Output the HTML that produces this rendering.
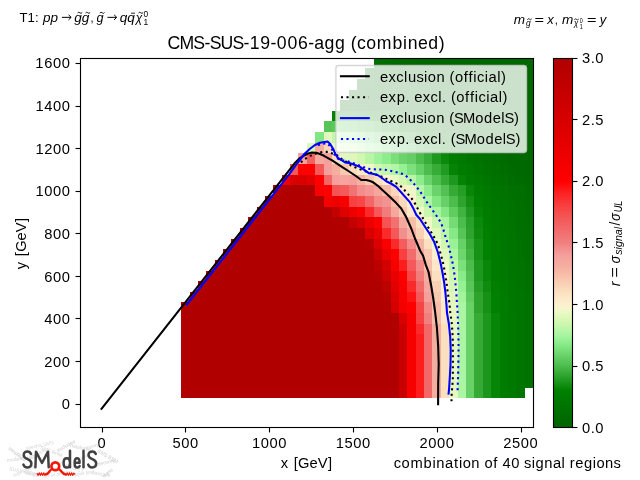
<!DOCTYPE html>
<html><head><meta charset="utf-8"><title>CMS-SUS-19-006-agg (combined)</title>
<style>html,body{margin:0;padding:0;background:#fff;overflow:hidden}svg{display:block;will-change:transform}text{font-family:"Liberation Sans",sans-serif;fill:#000}.i{font-style:italic}</style></head><body>
<svg width="640" height="480" viewBox="0 0 640 480">
<rect width="640" height="480" fill="#fff"/>
<g shape-rendering="crispEdges">
<rect x="181" y="388" width="218" height="10" fill="#b00000"/>
<rect x="399" y="388" width="8" height="10" fill="#c80000"/>
<rect x="407" y="388" width="9" height="10" fill="#f60000"/>
<rect x="416" y="388" width="8" height="10" fill="#fd1d1d"/>
<rect x="424" y="388" width="8" height="10" fill="#f26868"/>
<rect x="432" y="388" width="9" height="10" fill="#f5ad9f"/>
<rect x="441" y="388" width="8" height="10" fill="#fbe0c0"/>
<rect x="449" y="388" width="9" height="10" fill="#e6f8c1"/>
<rect x="458" y="388" width="8" height="10" fill="#acf5a2"/>
<rect x="466" y="388" width="8" height="10" fill="#67d167"/>
<rect x="474" y="388" width="9" height="10" fill="#35aa35"/>
<rect x="483" y="388" width="8" height="10" fill="#1c961c"/>
<rect x="491" y="388" width="9" height="10" fill="#078507"/>
<rect x="500" y="388" width="8" height="10" fill="#007d00"/>
<rect x="508" y="388" width="8" height="10" fill="#007900"/>
<rect x="516" y="388" width="9" height="10" fill="#007500"/>
<rect x="181" y="377" width="218" height="11" fill="#b00000"/>
<rect x="399" y="377" width="8" height="11" fill="#c80000"/>
<rect x="407" y="377" width="9" height="11" fill="#f60000"/>
<rect x="416" y="377" width="8" height="11" fill="#fd1d1d"/>
<rect x="424" y="377" width="8" height="11" fill="#f26868"/>
<rect x="432" y="377" width="9" height="11" fill="#f5ad9f"/>
<rect x="441" y="377" width="8" height="11" fill="#fbe0c0"/>
<rect x="449" y="377" width="9" height="11" fill="#e6f8c1"/>
<rect x="458" y="377" width="8" height="11" fill="#acf5a2"/>
<rect x="466" y="377" width="8" height="11" fill="#67d167"/>
<rect x="474" y="377" width="9" height="11" fill="#35aa35"/>
<rect x="483" y="377" width="8" height="11" fill="#1c961c"/>
<rect x="491" y="377" width="9" height="11" fill="#078507"/>
<rect x="500" y="377" width="8" height="11" fill="#007d00"/>
<rect x="508" y="377" width="8" height="11" fill="#007900"/>
<rect x="516" y="377" width="9" height="11" fill="#007500"/>
<rect x="525" y="377" width="8" height="11" fill="#007200"/>
<rect x="181" y="366" width="218" height="11" fill="#b00000"/>
<rect x="399" y="366" width="8" height="11" fill="#c80000"/>
<rect x="407" y="366" width="9" height="11" fill="#f60000"/>
<rect x="416" y="366" width="8" height="11" fill="#fd1d1d"/>
<rect x="424" y="366" width="8" height="11" fill="#f26868"/>
<rect x="432" y="366" width="9" height="11" fill="#f5ad9f"/>
<rect x="441" y="366" width="8" height="11" fill="#fbe0c0"/>
<rect x="449" y="366" width="9" height="11" fill="#e6f8c1"/>
<rect x="458" y="366" width="8" height="11" fill="#acf5a2"/>
<rect x="466" y="366" width="8" height="11" fill="#67d167"/>
<rect x="474" y="366" width="9" height="11" fill="#35aa35"/>
<rect x="483" y="366" width="8" height="11" fill="#1c961c"/>
<rect x="491" y="366" width="9" height="11" fill="#078507"/>
<rect x="500" y="366" width="8" height="11" fill="#007d00"/>
<rect x="508" y="366" width="8" height="11" fill="#007900"/>
<rect x="516" y="366" width="9" height="11" fill="#007500"/>
<rect x="525" y="366" width="8" height="11" fill="#007200"/>
<rect x="181" y="356" width="218" height="10" fill="#b00000"/>
<rect x="399" y="356" width="8" height="10" fill="#c80000"/>
<rect x="407" y="356" width="9" height="10" fill="#f60000"/>
<rect x="416" y="356" width="8" height="10" fill="#fd1d1d"/>
<rect x="424" y="356" width="8" height="10" fill="#f26868"/>
<rect x="432" y="356" width="9" height="10" fill="#f5ad9f"/>
<rect x="441" y="356" width="8" height="10" fill="#fbe0c0"/>
<rect x="449" y="356" width="9" height="10" fill="#e6f8c1"/>
<rect x="458" y="356" width="8" height="10" fill="#acf5a2"/>
<rect x="466" y="356" width="8" height="10" fill="#67d167"/>
<rect x="474" y="356" width="9" height="10" fill="#35aa35"/>
<rect x="483" y="356" width="8" height="10" fill="#1c961c"/>
<rect x="491" y="356" width="9" height="10" fill="#078507"/>
<rect x="500" y="356" width="8" height="10" fill="#007d00"/>
<rect x="508" y="356" width="8" height="10" fill="#007900"/>
<rect x="516" y="356" width="9" height="10" fill="#007500"/>
<rect x="525" y="356" width="8" height="10" fill="#007200"/>
<rect x="181" y="345" width="218" height="11" fill="#b00000"/>
<rect x="399" y="345" width="8" height="11" fill="#c80000"/>
<rect x="407" y="345" width="9" height="11" fill="#f60000"/>
<rect x="416" y="345" width="8" height="11" fill="#fd1d1d"/>
<rect x="424" y="345" width="8" height="11" fill="#f26868"/>
<rect x="432" y="345" width="9" height="11" fill="#f5ad9f"/>
<rect x="441" y="345" width="8" height="11" fill="#fbe0c0"/>
<rect x="449" y="345" width="9" height="11" fill="#e6f8c1"/>
<rect x="458" y="345" width="8" height="11" fill="#acf5a2"/>
<rect x="466" y="345" width="8" height="11" fill="#67d167"/>
<rect x="474" y="345" width="9" height="11" fill="#35aa35"/>
<rect x="483" y="345" width="8" height="11" fill="#1c961c"/>
<rect x="491" y="345" width="9" height="11" fill="#078507"/>
<rect x="500" y="345" width="8" height="11" fill="#007d00"/>
<rect x="508" y="345" width="8" height="11" fill="#007900"/>
<rect x="516" y="345" width="9" height="11" fill="#007500"/>
<rect x="525" y="345" width="8" height="11" fill="#007200"/>
<rect x="181" y="334" width="218" height="11" fill="#b00000"/>
<rect x="399" y="334" width="8" height="11" fill="#c80000"/>
<rect x="407" y="334" width="9" height="11" fill="#f60000"/>
<rect x="416" y="334" width="8" height="11" fill="#fd1d1d"/>
<rect x="424" y="334" width="8" height="11" fill="#f26868"/>
<rect x="432" y="334" width="9" height="11" fill="#f5ad9f"/>
<rect x="441" y="334" width="8" height="11" fill="#fbe0c0"/>
<rect x="449" y="334" width="9" height="11" fill="#e6f8c1"/>
<rect x="458" y="334" width="8" height="11" fill="#acf5a2"/>
<rect x="466" y="334" width="8" height="11" fill="#67d167"/>
<rect x="474" y="334" width="9" height="11" fill="#35aa35"/>
<rect x="483" y="334" width="8" height="11" fill="#1c961c"/>
<rect x="491" y="334" width="9" height="11" fill="#078507"/>
<rect x="500" y="334" width="8" height="11" fill="#007d00"/>
<rect x="508" y="334" width="8" height="11" fill="#007900"/>
<rect x="516" y="334" width="9" height="11" fill="#007500"/>
<rect x="525" y="334" width="8" height="11" fill="#007200"/>
<rect x="181" y="324" width="218" height="10" fill="#b00000"/>
<rect x="399" y="324" width="8" height="10" fill="#cc0000"/>
<rect x="407" y="324" width="9" height="10" fill="#f60000"/>
<rect x="416" y="324" width="8" height="10" fill="#fb2a2a"/>
<rect x="424" y="324" width="8" height="10" fill="#f26868"/>
<rect x="432" y="324" width="9" height="10" fill="#f5ad9f"/>
<rect x="441" y="324" width="8" height="10" fill="#fbe0c0"/>
<rect x="449" y="324" width="9" height="10" fill="#e6f8c1"/>
<rect x="458" y="324" width="8" height="10" fill="#acf5a2"/>
<rect x="466" y="324" width="8" height="10" fill="#67d167"/>
<rect x="474" y="324" width="9" height="10" fill="#35aa35"/>
<rect x="483" y="324" width="8" height="10" fill="#1c961c"/>
<rect x="491" y="324" width="9" height="10" fill="#078507"/>
<rect x="500" y="324" width="8" height="10" fill="#007d00"/>
<rect x="508" y="324" width="8" height="10" fill="#007900"/>
<rect x="516" y="324" width="9" height="10" fill="#007500"/>
<rect x="525" y="324" width="8" height="10" fill="#007200"/>
<rect x="181" y="313" width="218" height="11" fill="#b00000"/>
<rect x="399" y="313" width="8" height="11" fill="#d80000"/>
<rect x="407" y="313" width="9" height="11" fill="#f90000"/>
<rect x="416" y="313" width="8" height="11" fill="#f84040"/>
<rect x="424" y="313" width="8" height="11" fill="#f08080"/>
<rect x="432" y="313" width="9" height="11" fill="#f7bca8"/>
<rect x="441" y="313" width="8" height="11" fill="#fce8c8"/>
<rect x="449" y="313" width="9" height="11" fill="#e6f8c1"/>
<rect x="458" y="313" width="8" height="11" fill="#acf5a2"/>
<rect x="466" y="313" width="8" height="11" fill="#67d167"/>
<rect x="474" y="313" width="9" height="11" fill="#35aa35"/>
<rect x="483" y="313" width="8" height="11" fill="#1c961c"/>
<rect x="491" y="313" width="9" height="11" fill="#078507"/>
<rect x="500" y="313" width="8" height="11" fill="#007d00"/>
<rect x="508" y="313" width="8" height="11" fill="#007900"/>
<rect x="516" y="313" width="9" height="11" fill="#007500"/>
<rect x="525" y="313" width="8" height="11" fill="#007200"/>
<rect x="181" y="302" width="210" height="11" fill="#b00000"/>
<rect x="391" y="302" width="8" height="11" fill="#d40000"/>
<rect x="399" y="302" width="8" height="11" fill="#f30000"/>
<rect x="407" y="302" width="9" height="11" fill="#ff0000"/>
<rect x="416" y="302" width="8" height="11" fill="#f74545"/>
<rect x="424" y="302" width="8" height="11" fill="#f28a88"/>
<rect x="432" y="302" width="9" height="11" fill="#f7beaa"/>
<rect x="441" y="302" width="8" height="11" fill="#fce8c8"/>
<rect x="449" y="302" width="9" height="11" fill="#e6f8c1"/>
<rect x="458" y="302" width="8" height="11" fill="#acf5a2"/>
<rect x="466" y="302" width="8" height="11" fill="#67d167"/>
<rect x="474" y="302" width="9" height="11" fill="#2ea42e"/>
<rect x="483" y="302" width="8" height="11" fill="#169116"/>
<rect x="491" y="302" width="9" height="11" fill="#018101"/>
<rect x="500" y="302" width="8" height="11" fill="#007c00"/>
<rect x="508" y="302" width="8" height="11" fill="#007800"/>
<rect x="516" y="302" width="9" height="11" fill="#007500"/>
<rect x="525" y="302" width="8" height="11" fill="#007200"/>
<rect x="190" y="292" width="192" height="10" fill="#b00000"/>
<rect x="382" y="292" width="9" height="10" fill="#b40000"/>
<rect x="391" y="292" width="8" height="10" fill="#db0000"/>
<rect x="399" y="292" width="8" height="10" fill="#f60000"/>
<rect x="407" y="292" width="9" height="10" fill="#fe1212"/>
<rect x="416" y="292" width="8" height="10" fill="#f45858"/>
<rect x="424" y="292" width="8" height="10" fill="#f5a09c"/>
<rect x="432" y="292" width="9" height="10" fill="#f9c8b0"/>
<rect x="441" y="292" width="8" height="10" fill="#fdedcd"/>
<rect x="449" y="292" width="9" height="10" fill="#e0f8bc"/>
<rect x="458" y="292" width="8" height="10" fill="#a3f49d"/>
<rect x="466" y="292" width="8" height="10" fill="#60cc60"/>
<rect x="474" y="292" width="9" height="10" fill="#2ea42e"/>
<rect x="483" y="292" width="8" height="10" fill="#169116"/>
<rect x="491" y="292" width="9" height="10" fill="#018101"/>
<rect x="500" y="292" width="8" height="10" fill="#007c00"/>
<rect x="508" y="292" width="8" height="10" fill="#007800"/>
<rect x="516" y="292" width="9" height="10" fill="#007500"/>
<rect x="525" y="292" width="8" height="10" fill="#007200"/>
<rect x="198" y="281" width="184" height="11" fill="#b00000"/>
<rect x="382" y="281" width="9" height="11" fill="#bc0000"/>
<rect x="391" y="281" width="8" height="11" fill="#e30000"/>
<rect x="399" y="281" width="8" height="11" fill="#f90000"/>
<rect x="407" y="281" width="9" height="11" fill="#fb2a2a"/>
<rect x="416" y="281" width="8" height="11" fill="#f26868"/>
<rect x="424" y="281" width="8" height="11" fill="#f5a69e"/>
<rect x="432" y="281" width="9" height="11" fill="#facfb5"/>
<rect x="441" y="281" width="8" height="11" fill="#fdf0d0"/>
<rect x="449" y="281" width="9" height="11" fill="#d6f8b5"/>
<rect x="458" y="281" width="8" height="11" fill="#95f193"/>
<rect x="466" y="281" width="8" height="11" fill="#5ac65a"/>
<rect x="474" y="281" width="9" height="11" fill="#269e26"/>
<rect x="483" y="281" width="8" height="11" fill="#0f8c0f"/>
<rect x="491" y="281" width="9" height="11" fill="#007f00"/>
<rect x="500" y="281" width="8" height="11" fill="#007b00"/>
<rect x="508" y="281" width="8" height="11" fill="#007700"/>
<rect x="516" y="281" width="9" height="11" fill="#007400"/>
<rect x="525" y="281" width="8" height="11" fill="#007100"/>
<rect x="206" y="271" width="168" height="10" fill="#b00000"/>
<rect x="374" y="271" width="8" height="10" fill="#b40000"/>
<rect x="382" y="271" width="9" height="10" fill="#cc0000"/>
<rect x="391" y="271" width="8" height="10" fill="#eb0000"/>
<rect x="399" y="271" width="8" height="10" fill="#ff0000"/>
<rect x="407" y="271" width="9" height="10" fill="#f74545"/>
<rect x="416" y="271" width="8" height="10" fill="#f07c7c"/>
<rect x="424" y="271" width="8" height="10" fill="#f5ad9f"/>
<rect x="432" y="271" width="9" height="10" fill="#fbe0c0"/>
<rect x="441" y="271" width="8" height="10" fill="#f8f3cd"/>
<rect x="449" y="271" width="9" height="10" fill="#ccf8ae"/>
<rect x="458" y="271" width="8" height="10" fill="#89eb89"/>
<rect x="466" y="271" width="8" height="10" fill="#53c153"/>
<rect x="474" y="271" width="9" height="10" fill="#1e981e"/>
<rect x="483" y="271" width="8" height="10" fill="#098709"/>
<rect x="491" y="271" width="9" height="10" fill="#007d00"/>
<rect x="500" y="271" width="8" height="10" fill="#007900"/>
<rect x="508" y="271" width="8" height="10" fill="#007600"/>
<rect x="516" y="271" width="9" height="10" fill="#007300"/>
<rect x="525" y="271" width="8" height="10" fill="#007000"/>
<rect x="215" y="260" width="159" height="11" fill="#b00000"/>
<rect x="374" y="260" width="8" height="11" fill="#bc0000"/>
<rect x="382" y="260" width="9" height="11" fill="#d40000"/>
<rect x="391" y="260" width="8" height="11" fill="#f60000"/>
<rect x="399" y="260" width="8" height="11" fill="#fd1d1d"/>
<rect x="407" y="260" width="9" height="11" fill="#f45858"/>
<rect x="416" y="260" width="8" height="11" fill="#f28a88"/>
<rect x="424" y="260" width="8" height="11" fill="#f7beaa"/>
<rect x="432" y="260" width="9" height="11" fill="#fce8c8"/>
<rect x="441" y="260" width="8" height="11" fill="#f0f8c8"/>
<rect x="449" y="260" width="9" height="11" fill="#bcf6a8"/>
<rect x="458" y="260" width="8" height="11" fill="#7ce07c"/>
<rect x="466" y="260" width="8" height="11" fill="#4cbc4c"/>
<rect x="474" y="260" width="9" height="11" fill="#1e981e"/>
<rect x="483" y="260" width="8" height="11" fill="#098709"/>
<rect x="491" y="260" width="9" height="11" fill="#007d00"/>
<rect x="500" y="260" width="8" height="11" fill="#007900"/>
<rect x="508" y="260" width="8" height="11" fill="#007600"/>
<rect x="516" y="260" width="9" height="11" fill="#007300"/>
<rect x="525" y="260" width="8" height="11" fill="#007000"/>
<rect x="223" y="249" width="151" height="11" fill="#b00000"/>
<rect x="374" y="249" width="8" height="11" fill="#c80000"/>
<rect x="382" y="249" width="9" height="11" fill="#eb0000"/>
<rect x="391" y="249" width="8" height="11" fill="#ff0000"/>
<rect x="399" y="249" width="8" height="11" fill="#f84040"/>
<rect x="407" y="249" width="9" height="11" fill="#f26c6c"/>
<rect x="416" y="249" width="8" height="11" fill="#f5a89e"/>
<rect x="424" y="249" width="8" height="11" fill="#f9c8b0"/>
<rect x="432" y="249" width="9" height="11" fill="#fdf0d0"/>
<rect x="441" y="249" width="8" height="11" fill="#e0f8bc"/>
<rect x="449" y="249" width="9" height="11" fill="#acf5a2"/>
<rect x="458" y="249" width="8" height="11" fill="#6ed66e"/>
<rect x="466" y="249" width="8" height="11" fill="#41b341"/>
<rect x="474" y="249" width="9" height="11" fill="#179217"/>
<rect x="483" y="249" width="8" height="11" fill="#028202"/>
<rect x="491" y="249" width="9" height="11" fill="#007c00"/>
<rect x="500" y="249" width="8" height="11" fill="#007800"/>
<rect x="508" y="249" width="8" height="11" fill="#007500"/>
<rect x="516" y="249" width="9" height="11" fill="#007200"/>
<rect x="525" y="249" width="8" height="11" fill="#006f00"/>
<rect x="231" y="239" width="134" height="10" fill="#b00000"/>
<rect x="365" y="239" width="9" height="10" fill="#b40000"/>
<rect x="374" y="239" width="8" height="10" fill="#db0000"/>
<rect x="382" y="239" width="9" height="10" fill="#fb0000"/>
<rect x="391" y="239" width="8" height="10" fill="#fb2a2a"/>
<rect x="399" y="239" width="8" height="10" fill="#f45c5c"/>
<rect x="407" y="239" width="9" height="10" fill="#f28a88"/>
<rect x="416" y="239" width="8" height="10" fill="#f6b5a3"/>
<rect x="424" y="239" width="8" height="10" fill="#fbe0c0"/>
<rect x="432" y="239" width="9" height="10" fill="#f0f8c8"/>
<rect x="441" y="239" width="8" height="10" fill="#d0f8b0"/>
<rect x="449" y="239" width="9" height="10" fill="#9af296"/>
<rect x="458" y="239" width="8" height="10" fill="#67d167"/>
<rect x="466" y="239" width="8" height="10" fill="#39ad39"/>
<rect x="474" y="239" width="9" height="10" fill="#179217"/>
<rect x="483" y="239" width="8" height="10" fill="#028202"/>
<rect x="491" y="239" width="9" height="10" fill="#007c00"/>
<rect x="500" y="239" width="8" height="10" fill="#007800"/>
<rect x="508" y="239" width="8" height="10" fill="#007500"/>
<rect x="516" y="239" width="9" height="10" fill="#007200"/>
<rect x="525" y="239" width="8" height="10" fill="#006f00"/>
<rect x="240" y="228" width="125" height="11" fill="#b00000"/>
<rect x="365" y="228" width="9" height="11" fill="#db0000"/>
<rect x="374" y="228" width="8" height="11" fill="#eb0000"/>
<rect x="382" y="228" width="9" height="11" fill="#fb2a2a"/>
<rect x="391" y="228" width="8" height="11" fill="#f45858"/>
<rect x="399" y="228" width="8" height="11" fill="#f2908e"/>
<rect x="407" y="228" width="9" height="11" fill="#f5aea0"/>
<rect x="416" y="228" width="8" height="11" fill="#facfb5"/>
<rect x="424" y="228" width="8" height="11" fill="#fdf0d0"/>
<rect x="432" y="228" width="9" height="11" fill="#e0f8bc"/>
<rect x="441" y="228" width="8" height="11" fill="#bcf6a8"/>
<rect x="449" y="228" width="9" height="11" fill="#86e886"/>
<rect x="458" y="228" width="8" height="11" fill="#56c456"/>
<rect x="466" y="228" width="8" height="11" fill="#2ea42e"/>
<rect x="474" y="228" width="9" height="11" fill="#0f8c0f"/>
<rect x="483" y="228" width="8" height="11" fill="#007f00"/>
<rect x="491" y="228" width="9" height="11" fill="#007b00"/>
<rect x="500" y="228" width="8" height="11" fill="#007700"/>
<rect x="508" y="228" width="8" height="11" fill="#007400"/>
<rect x="516" y="228" width="9" height="11" fill="#007100"/>
<rect x="525" y="228" width="8" height="11" fill="#006f00"/>
<rect x="248" y="217" width="101" height="11" fill="#b00000"/>
<rect x="349" y="217" width="8" height="11" fill="#c40000"/>
<rect x="357" y="217" width="8" height="11" fill="#d40000"/>
<rect x="365" y="217" width="9" height="11" fill="#eb0000"/>
<rect x="374" y="217" width="8" height="11" fill="#ff0000"/>
<rect x="382" y="217" width="9" height="11" fill="#f55353"/>
<rect x="391" y="217" width="8" height="11" fill="#f27070"/>
<rect x="399" y="217" width="8" height="11" fill="#f5a89e"/>
<rect x="407" y="217" width="9" height="11" fill="#f7beaa"/>
<rect x="416" y="217" width="8" height="11" fill="#fbe0c0"/>
<rect x="424" y="217" width="8" height="11" fill="#f0f8c8"/>
<rect x="432" y="217" width="9" height="11" fill="#c8f7ad"/>
<rect x="441" y="217" width="8" height="11" fill="#a8f5a0"/>
<rect x="449" y="217" width="9" height="11" fill="#75db75"/>
<rect x="458" y="217" width="8" height="11" fill="#4cbc4c"/>
<rect x="466" y="217" width="8" height="11" fill="#2aa12a"/>
<rect x="474" y="217" width="9" height="11" fill="#0b890b"/>
<rect x="483" y="217" width="8" height="11" fill="#007e00"/>
<rect x="491" y="217" width="9" height="11" fill="#007a00"/>
<rect x="500" y="217" width="8" height="11" fill="#007600"/>
<rect x="508" y="217" width="8" height="11" fill="#007300"/>
<rect x="516" y="217" width="9" height="11" fill="#007100"/>
<rect x="525" y="217" width="8" height="11" fill="#006e00"/>
<rect x="257" y="207" width="75" height="10" fill="#b00000"/>
<rect x="332" y="207" width="8" height="10" fill="#c40000"/>
<rect x="340" y="207" width="9" height="10" fill="#df0000"/>
<rect x="349" y="207" width="8" height="10" fill="#ef0000"/>
<rect x="357" y="207" width="8" height="10" fill="#fb0000"/>
<rect x="365" y="207" width="9" height="10" fill="#fb2a2a"/>
<rect x="374" y="207" width="8" height="10" fill="#f45858"/>
<rect x="382" y="207" width="9" height="10" fill="#f07c7c"/>
<rect x="391" y="207" width="8" height="10" fill="#f5a89e"/>
<rect x="399" y="207" width="8" height="10" fill="#f9c8b0"/>
<rect x="407" y="207" width="9" height="10" fill="#fce8c8"/>
<rect x="416" y="207" width="8" height="10" fill="#f0f8c8"/>
<rect x="424" y="207" width="8" height="10" fill="#c8f7ad"/>
<rect x="432" y="207" width="9" height="10" fill="#a8f5a0"/>
<rect x="441" y="207" width="8" height="10" fill="#82e682"/>
<rect x="449" y="207" width="9" height="10" fill="#60cc60"/>
<rect x="458" y="207" width="8" height="10" fill="#41b341"/>
<rect x="466" y="207" width="8" height="10" fill="#1e981e"/>
<rect x="474" y="207" width="9" height="10" fill="#048304"/>
<rect x="483" y="207" width="8" height="10" fill="#007d00"/>
<rect x="491" y="207" width="9" height="10" fill="#007900"/>
<rect x="500" y="207" width="8" height="10" fill="#007500"/>
<rect x="508" y="207" width="8" height="10" fill="#007200"/>
<rect x="516" y="207" width="9" height="10" fill="#007000"/>
<rect x="525" y="207" width="8" height="10" fill="#006d00"/>
<rect x="265" y="196" width="59" height="11" fill="#b00000"/>
<rect x="324" y="196" width="8" height="11" fill="#f70000"/>
<rect x="332" y="196" width="8" height="11" fill="#ef0000"/>
<rect x="340" y="196" width="9" height="11" fill="#f70000"/>
<rect x="349" y="196" width="8" height="11" fill="#f84040"/>
<rect x="357" y="196" width="8" height="11" fill="#f74747"/>
<rect x="365" y="196" width="9" height="11" fill="#f36666"/>
<rect x="374" y="196" width="8" height="11" fill="#f28a88"/>
<rect x="382" y="196" width="9" height="11" fill="#f39391"/>
<rect x="391" y="196" width="8" height="11" fill="#f7bca8"/>
<rect x="399" y="196" width="8" height="11" fill="#fad9bb"/>
<rect x="407" y="196" width="9" height="11" fill="#fdf0d0"/>
<rect x="416" y="196" width="8" height="11" fill="#d3f8b2"/>
<rect x="424" y="196" width="8" height="11" fill="#acf5a2"/>
<rect x="432" y="196" width="9" height="11" fill="#82e682"/>
<rect x="441" y="196" width="8" height="11" fill="#67d167"/>
<rect x="449" y="196" width="9" height="11" fill="#4cbc4c"/>
<rect x="458" y="196" width="8" height="11" fill="#2ea42e"/>
<rect x="466" y="196" width="8" height="11" fill="#138f13"/>
<rect x="474" y="196" width="9" height="11" fill="#008000"/>
<rect x="483" y="196" width="8" height="11" fill="#007b00"/>
<rect x="491" y="196" width="9" height="11" fill="#007800"/>
<rect x="500" y="196" width="8" height="11" fill="#007400"/>
<rect x="508" y="196" width="8" height="11" fill="#007200"/>
<rect x="516" y="196" width="9" height="11" fill="#006f00"/>
<rect x="525" y="196" width="8" height="11" fill="#006d00"/>
<rect x="273" y="185" width="9" height="11" fill="#b80000"/>
<rect x="282" y="185" width="33" height="11" fill="#b00000"/>
<rect x="315" y="185" width="9" height="11" fill="#fb0000"/>
<rect x="324" y="185" width="8" height="11" fill="#ff0000"/>
<rect x="332" y="185" width="8" height="11" fill="#f55353"/>
<rect x="340" y="185" width="9" height="11" fill="#f45a5a"/>
<rect x="349" y="185" width="8" height="11" fill="#f17272"/>
<rect x="357" y="185" width="8" height="11" fill="#f28d8b"/>
<rect x="365" y="185" width="9" height="11" fill="#f49694"/>
<rect x="374" y="185" width="8" height="11" fill="#f5a59d"/>
<rect x="382" y="185" width="9" height="11" fill="#f7bca8"/>
<rect x="391" y="185" width="8" height="11" fill="#fad6ba"/>
<rect x="399" y="185" width="8" height="11" fill="#fdedcd"/>
<rect x="407" y="185" width="9" height="11" fill="#edf8c6"/>
<rect x="416" y="185" width="8" height="11" fill="#b8f6a6"/>
<rect x="424" y="185" width="8" height="11" fill="#89eb89"/>
<rect x="432" y="185" width="9" height="11" fill="#6bd36b"/>
<rect x="441" y="185" width="8" height="11" fill="#53c153"/>
<rect x="449" y="185" width="9" height="11" fill="#35aa35"/>
<rect x="458" y="185" width="8" height="11" fill="#269e26"/>
<rect x="466" y="185" width="8" height="11" fill="#088608"/>
<rect x="474" y="185" width="9" height="11" fill="#007d00"/>
<rect x="483" y="185" width="8" height="11" fill="#007900"/>
<rect x="491" y="185" width="9" height="11" fill="#007600"/>
<rect x="500" y="185" width="8" height="11" fill="#007300"/>
<rect x="508" y="185" width="8" height="11" fill="#007000"/>
<rect x="516" y="185" width="9" height="11" fill="#006e00"/>
<rect x="525" y="185" width="8" height="11" fill="#006c00"/>
<rect x="282" y="175" width="8" height="10" fill="#ef0000"/>
<rect x="290" y="175" width="8" height="10" fill="#d80000"/>
<rect x="298" y="175" width="9" height="10" fill="#da0000"/>
<rect x="307" y="175" width="8" height="10" fill="#e20000"/>
<rect x="315" y="175" width="9" height="10" fill="#ff0000"/>
<rect x="324" y="175" width="8" height="10" fill="#f36666"/>
<rect x="332" y="175" width="8" height="10" fill="#f5a09c"/>
<rect x="340" y="175" width="9" height="10" fill="#f5a59d"/>
<rect x="349" y="175" width="8" height="10" fill="#f5a09c"/>
<rect x="357" y="175" width="8" height="10" fill="#f5b2a2"/>
<rect x="365" y="175" width="9" height="10" fill="#f9c8b0"/>
<rect x="374" y="175" width="8" height="10" fill="#fbdebe"/>
<rect x="382" y="175" width="9" height="10" fill="#fdf0d0"/>
<rect x="391" y="175" width="8" height="10" fill="#eaf8c3"/>
<rect x="399" y="175" width="8" height="10" fill="#d3f8b2"/>
<rect x="407" y="175" width="9" height="10" fill="#b8f6a6"/>
<rect x="416" y="175" width="8" height="10" fill="#8ded8d"/>
<rect x="424" y="175" width="8" height="10" fill="#6bd36b"/>
<rect x="432" y="175" width="9" height="10" fill="#4fbf4f"/>
<rect x="441" y="175" width="8" height="10" fill="#35aa35"/>
<rect x="449" y="175" width="9" height="10" fill="#1e981e"/>
<rect x="458" y="175" width="8" height="10" fill="#048304"/>
<rect x="466" y="175" width="8" height="10" fill="#007d00"/>
<rect x="474" y="175" width="9" height="10" fill="#007900"/>
<rect x="483" y="175" width="8" height="10" fill="#007500"/>
<rect x="491" y="175" width="9" height="10" fill="#007200"/>
<rect x="500" y="175" width="8" height="10" fill="#007000"/>
<rect x="508" y="175" width="8" height="10" fill="#006d00"/>
<rect x="516" y="175" width="9" height="10" fill="#006b00"/>
<rect x="525" y="175" width="8" height="10" fill="#006a00"/>
<rect x="290" y="164" width="8" height="11" fill="#f45858"/>
<rect x="298" y="164" width="9" height="11" fill="#ff0000"/>
<rect x="307" y="164" width="8" height="11" fill="#fd0000"/>
<rect x="315" y="164" width="9" height="11" fill="#f45858"/>
<rect x="324" y="164" width="8" height="11" fill="#f5a09c"/>
<rect x="332" y="164" width="8" height="11" fill="#f5aea0"/>
<rect x="340" y="164" width="9" height="11" fill="#f9c8b0"/>
<rect x="349" y="164" width="8" height="11" fill="#fbdebe"/>
<rect x="357" y="164" width="8" height="11" fill="#fceaca"/>
<rect x="365" y="164" width="9" height="11" fill="#f0f8c8"/>
<rect x="374" y="164" width="8" height="11" fill="#d0f8b0"/>
<rect x="382" y="164" width="9" height="11" fill="#c0f7aa"/>
<rect x="391" y="164" width="8" height="11" fill="#b0f6a3"/>
<rect x="399" y="164" width="8" height="11" fill="#95f193"/>
<rect x="407" y="164" width="9" height="11" fill="#7ce07c"/>
<rect x="416" y="164" width="8" height="11" fill="#65d065"/>
<rect x="424" y="164" width="8" height="11" fill="#4cbc4c"/>
<rect x="432" y="164" width="9" height="11" fill="#37ac37"/>
<rect x="441" y="164" width="8" height="11" fill="#229b22"/>
<rect x="449" y="164" width="9" height="11" fill="#048304"/>
<rect x="458" y="164" width="8" height="11" fill="#007d00"/>
<rect x="466" y="164" width="8" height="11" fill="#007900"/>
<rect x="474" y="164" width="9" height="11" fill="#007500"/>
<rect x="483" y="164" width="8" height="11" fill="#007200"/>
<rect x="491" y="164" width="9" height="11" fill="#007000"/>
<rect x="500" y="164" width="8" height="11" fill="#006d00"/>
<rect x="508" y="164" width="8" height="11" fill="#006b00"/>
<rect x="516" y="164" width="9" height="11" fill="#006a00"/>
<rect x="525" y="164" width="8" height="11" fill="#006800"/>
<rect x="298" y="153" width="9" height="11" fill="#f5a09c"/>
<rect x="307" y="153" width="8" height="11" fill="#f36262"/>
<rect x="315" y="153" width="9" height="11" fill="#f5a89e"/>
<rect x="324" y="153" width="8" height="11" fill="#f5a09c"/>
<rect x="332" y="153" width="8" height="11" fill="#fbe0c0"/>
<rect x="340" y="153" width="9" height="11" fill="#e3f8be"/>
<rect x="349" y="153" width="8" height="11" fill="#ddf8ba"/>
<rect x="357" y="153" width="8" height="11" fill="#d0f8b0"/>
<rect x="365" y="153" width="9" height="11" fill="#b8f6a6"/>
<rect x="374" y="153" width="8" height="11" fill="#9ef39a"/>
<rect x="382" y="153" width="9" height="11" fill="#8ded8d"/>
<rect x="391" y="153" width="8" height="11" fill="#7adf7a"/>
<rect x="399" y="153" width="8" height="11" fill="#6bd36b"/>
<rect x="407" y="153" width="9" height="11" fill="#64ce64"/>
<rect x="416" y="153" width="8" height="11" fill="#4cbc4c"/>
<rect x="424" y="153" width="8" height="11" fill="#39ad39"/>
<rect x="432" y="153" width="9" height="11" fill="#1e981e"/>
<rect x="441" y="153" width="8" height="11" fill="#0b890b"/>
<rect x="449" y="153" width="9" height="11" fill="#007e00"/>
<rect x="458" y="153" width="8" height="11" fill="#007a00"/>
<rect x="466" y="153" width="8" height="11" fill="#007600"/>
<rect x="474" y="153" width="9" height="11" fill="#007300"/>
<rect x="483" y="153" width="8" height="11" fill="#007100"/>
<rect x="491" y="153" width="9" height="11" fill="#006e00"/>
<rect x="500" y="153" width="8" height="11" fill="#006c00"/>
<rect x="508" y="153" width="8" height="11" fill="#006a00"/>
<rect x="516" y="153" width="9" height="11" fill="#006900"/>
<rect x="525" y="153" width="8" height="11" fill="#006800"/>
<rect x="307" y="143" width="8" height="10" fill="#daf8b7"/>
<rect x="315" y="143" width="9" height="10" fill="#f5ad9f"/>
<rect x="324" y="143" width="8" height="10" fill="#fad9bb"/>
<rect x="332" y="143" width="8" height="10" fill="#eaf8c3"/>
<rect x="340" y="143" width="9" height="10" fill="#d3f8b2"/>
<rect x="349" y="143" width="8" height="10" fill="#c0f7aa"/>
<rect x="357" y="143" width="8" height="10" fill="#b0f6a3"/>
<rect x="365" y="143" width="9" height="10" fill="#9af296"/>
<rect x="374" y="143" width="8" height="10" fill="#86e886"/>
<rect x="382" y="143" width="9" height="10" fill="#75db75"/>
<rect x="391" y="143" width="8" height="10" fill="#64ce64"/>
<rect x="399" y="143" width="8" height="10" fill="#53c153"/>
<rect x="407" y="143" width="9" height="10" fill="#41b341"/>
<rect x="416" y="143" width="8" height="10" fill="#2ea42e"/>
<rect x="424" y="143" width="8" height="10" fill="#1e981e"/>
<rect x="432" y="143" width="9" height="10" fill="#0f8c0f"/>
<rect x="441" y="143" width="8" height="10" fill="#048304"/>
<rect x="449" y="143" width="9" height="10" fill="#007d00"/>
<rect x="458" y="143" width="8" height="10" fill="#007900"/>
<rect x="466" y="143" width="8" height="10" fill="#007500"/>
<rect x="474" y="143" width="9" height="10" fill="#007200"/>
<rect x="483" y="143" width="8" height="10" fill="#007000"/>
<rect x="491" y="143" width="9" height="10" fill="#006d00"/>
<rect x="500" y="143" width="8" height="10" fill="#006b00"/>
<rect x="508" y="143" width="8" height="10" fill="#006a00"/>
<rect x="516" y="143" width="17" height="10" fill="#006800"/>
<rect x="315" y="132" width="9" height="11" fill="#82e682"/>
<rect x="324" y="132" width="8" height="11" fill="#e0f8bc"/>
<rect x="332" y="132" width="8" height="11" fill="#c4f7ab"/>
<rect x="340" y="132" width="9" height="11" fill="#a3f49d"/>
<rect x="349" y="132" width="8" height="11" fill="#90f090"/>
<rect x="357" y="132" width="8" height="11" fill="#82e682"/>
<rect x="365" y="132" width="9" height="11" fill="#71d971"/>
<rect x="374" y="132" width="8" height="11" fill="#60cc60"/>
<rect x="382" y="132" width="9" height="11" fill="#4fbf4f"/>
<rect x="391" y="132" width="8" height="11" fill="#3db03d"/>
<rect x="399" y="132" width="8" height="11" fill="#2aa12a"/>
<rect x="407" y="132" width="9" height="11" fill="#1b951b"/>
<rect x="416" y="132" width="8" height="11" fill="#0b890b"/>
<rect x="424" y="132" width="8" height="11" fill="#008000"/>
<rect x="432" y="132" width="9" height="11" fill="#007c00"/>
<rect x="441" y="132" width="8" height="11" fill="#007800"/>
<rect x="449" y="132" width="9" height="11" fill="#007500"/>
<rect x="458" y="132" width="8" height="11" fill="#007200"/>
<rect x="466" y="132" width="8" height="11" fill="#006f00"/>
<rect x="474" y="132" width="9" height="11" fill="#006d00"/>
<rect x="483" y="132" width="8" height="11" fill="#006b00"/>
<rect x="491" y="132" width="9" height="11" fill="#006900"/>
<rect x="500" y="132" width="33" height="11" fill="#006800"/>
<rect x="324" y="121" width="8" height="11" fill="#56c456"/>
<rect x="332" y="121" width="8" height="11" fill="#5dc95d"/>
<rect x="340" y="121" width="9" height="11" fill="#53c153"/>
<rect x="349" y="121" width="8" height="11" fill="#4cbc4c"/>
<rect x="357" y="121" width="8" height="11" fill="#44b644"/>
<rect x="365" y="121" width="9" height="11" fill="#3db03d"/>
<rect x="374" y="121" width="8" height="11" fill="#31a731"/>
<rect x="382" y="121" width="9" height="11" fill="#1e981e"/>
<rect x="391" y="121" width="8" height="11" fill="#0f8c0f"/>
<rect x="399" y="121" width="8" height="11" fill="#048304"/>
<rect x="407" y="121" width="9" height="11" fill="#007d00"/>
<rect x="416" y="121" width="8" height="11" fill="#007900"/>
<rect x="424" y="121" width="8" height="11" fill="#007500"/>
<rect x="432" y="121" width="9" height="11" fill="#007200"/>
<rect x="441" y="121" width="8" height="11" fill="#007000"/>
<rect x="449" y="121" width="9" height="11" fill="#006d00"/>
<rect x="458" y="121" width="8" height="11" fill="#006b00"/>
<rect x="466" y="121" width="8" height="11" fill="#006a00"/>
<rect x="474" y="121" width="59" height="11" fill="#006800"/>
<rect x="332" y="111" width="8" height="10" fill="#048304"/>
<rect x="340" y="111" width="17" height="10" fill="#0b890b"/>
<rect x="357" y="111" width="8" height="10" fill="#088608"/>
<rect x="365" y="111" width="9" height="10" fill="#008000"/>
<rect x="374" y="111" width="8" height="10" fill="#007d00"/>
<rect x="382" y="111" width="9" height="10" fill="#007900"/>
<rect x="391" y="111" width="8" height="10" fill="#007600"/>
<rect x="399" y="111" width="8" height="10" fill="#007300"/>
<rect x="407" y="111" width="9" height="10" fill="#007000"/>
<rect x="416" y="111" width="8" height="10" fill="#006e00"/>
<rect x="424" y="111" width="8" height="10" fill="#006c00"/>
<rect x="432" y="111" width="9" height="10" fill="#006a00"/>
<rect x="441" y="111" width="8" height="10" fill="#006900"/>
<rect x="449" y="111" width="84" height="10" fill="#006800"/>
<rect x="340" y="100" width="9" height="11" fill="#006f00"/>
<rect x="349" y="100" width="8" height="11" fill="#006d00"/>
<rect x="357" y="100" width="8" height="11" fill="#006c00"/>
<rect x="365" y="100" width="9" height="11" fill="#006a00"/>
<rect x="374" y="100" width="8" height="11" fill="#006900"/>
<rect x="382" y="100" width="151" height="11" fill="#006800"/>
<rect x="349" y="90" width="8" height="10" fill="#006f00"/>
<rect x="357" y="90" width="8" height="10" fill="#006d00"/>
<rect x="365" y="90" width="9" height="10" fill="#006c00"/>
<rect x="374" y="90" width="8" height="10" fill="#006a00"/>
<rect x="382" y="90" width="9" height="10" fill="#006900"/>
<rect x="391" y="90" width="142" height="10" fill="#006800"/>
<rect x="357" y="79" width="8" height="11" fill="#006f00"/>
<rect x="365" y="79" width="9" height="11" fill="#006d00"/>
<rect x="374" y="79" width="8" height="11" fill="#006c00"/>
<rect x="382" y="79" width="9" height="11" fill="#006a00"/>
<rect x="391" y="79" width="8" height="11" fill="#006900"/>
<rect x="399" y="79" width="134" height="11" fill="#006800"/>
<rect x="365" y="68" width="9" height="11" fill="#006f00"/>
<rect x="374" y="68" width="8" height="11" fill="#006d00"/>
<rect x="382" y="68" width="9" height="11" fill="#006c00"/>
<rect x="391" y="68" width="8" height="11" fill="#006a00"/>
<rect x="399" y="68" width="8" height="11" fill="#006900"/>
<rect x="407" y="68" width="126" height="11" fill="#006800"/>
<rect x="374" y="58" width="8" height="10" fill="#006f00"/>
<rect x="382" y="58" width="9" height="10" fill="#006d00"/>
<rect x="391" y="58" width="8" height="10" fill="#006c00"/>
<rect x="399" y="58" width="8" height="10" fill="#006a00"/>
<rect x="407" y="58" width="9" height="10" fill="#006900"/>
<rect x="416" y="58" width="117" height="10" fill="#006800"/>
</g>
<path d="M185.6 304.6 L267.6 200.2" stroke="#b00000" stroke-width="1.4" fill="none"/>
<g fill="none" stroke-linejoin="round">
<path d="M101.50 408.90 L295.40 162.40 L299.60 158.30 L304.00 155.50 L308.00 153.50 L312.00 152.60 L316.00 152.80 L320.00 154.00 L324.00 155.80 L332.50 160.60 L340.00 165.60 L348.75 171.25 L356.25 176.25 L361.25 180.00 L366.25 180.00 L370.00 181.00 L372.50 181.90 L377.50 185.60 L383.75 191.25 L390.00 196.90 L396.25 203.10 L401.25 208.50 L406.25 217.25 L411.25 228.50 L415.00 238.50 L420.30 251.00 L423.10 255.70 L425.80 264.90 L428.60 272.20 L431.40 287.00 L433.20 298.00 L435.00 311.00 L436.90 327.70 L438.20 346.20 L438.70 364.60 L438.20 383.00 L438.10 404.30" stroke="#000" stroke-width="2.083" stroke-linecap="square"/>
<path d="M301.00 162.50 L302.50 160.60 L307.50 157.50 L312.50 154.75 L317.50 153.00 L322.75 151.90 L328.10 151.90 L333.10 153.75 L337.50 155.50 L341.25 158.75 L345.60 161.25 L351.25 165.60 L356.90 168.10 L361.90 170.00 L367.00 171.80 L372.50 173.10 L377.50 175.00 L382.50 176.90 L387.50 179.40 L392.75 181.90 L397.75 184.00 L402.25 187.50 L406.00 191.90 L409.60 195.90 L413.10 200.40 L415.60 204.60 L418.10 209.40 L422.50 217.50 L427.00 225.50 L432.00 233.50 L434.70 238.10 L437.50 243.70 L439.40 249.20 L440.80 254.70 L442.70 261.20 L444.00 267.60 L445.20 275.00 L446.40 281.50 L447.60 291.60 L448.60 298.00 L449.50 303.60 L449.90 309.00 L450.40 314.00 L451.30 319.50 L451.90 325.00 L452.30 330.50 L452.60 336.00 L452.80 341.60 L452.90 360.00 L452.80 380.30 L452.30 385.80 L451.90 391.40 L451.50 396.90 L451.50 404.30" stroke="#000" stroke-width="2.083" stroke-dasharray="2.083 3.437"/>
<path d="M186.80 304.60 L289.10 174.40 L296.90 163.75 L304.60 153.75 L310.00 148.75 L315.00 145.00 L320.00 142.75 L327.50 141.50 L330.00 143.75 L333.10 148.75 L335.60 154.40 L338.10 158.10 L341.25 160.00 L345.00 162.50 L350.00 163.10 L355.00 165.00 L360.00 166.90 L365.00 170.30 L368.75 173.10 L372.50 173.75 L377.50 175.00 L381.25 177.50 L386.25 181.25 L391.25 183.75 L396.25 186.90 L401.25 192.50 L406.25 198.10 L410.00 202.40 L413.40 208.60 L416.25 214.75 L420.00 219.00 L425.80 228.00 L429.50 233.50 L434.10 241.80 L437.80 252.00 L440.60 263.00 L442.40 272.20 L444.30 283.30 L445.60 294.40 L446.50 305.40 L447.00 312.80 L448.90 324.00 L450.20 337.00 L450.70 349.90 L450.50 364.60 L449.80 377.50 L449.10 388.60 L448.60 393.60" stroke="#00f" stroke-width="2.083" stroke-linecap="square"/>
<path d="M318.00 145.20 L322.00 143.80 L327.00 143.20 L329.50 145.50 L332.30 150.00 L334.80 155.00 L337.50 158.40 L341.00 160.30 L346.25 160.60 L351.25 162.50 L356.25 164.40 L361.90 166.25 L366.50 168.50 L371.90 169.30 L377.50 169.40 L383.10 169.60 L388.50 170.25 L394.00 171.60 L399.40 172.90 L404.40 174.60 L408.75 178.10 L412.50 182.10 L416.00 186.25 L419.40 190.60 L422.50 195.00 L425.40 200.00 L428.50 204.50 L431.60 208.90 L435.00 213.60 L438.10 218.20 L440.90 222.60 L442.60 227.40 L444.60 233.50 L446.10 239.00 L448.00 244.00 L449.40 249.20 L450.70 254.70 L452.00 260.30 L453.10 265.80 L454.00 271.30 L454.80 276.90 L455.30 282.40 L455.90 287.90 L456.30 292.50 L456.60 298.00 L457.00 303.60 L457.40 309.10 L457.70 314.50 L458.30 331.40 L458.50 342.50 L458.50 353.60 L458.30 364.60 L458.10 375.70 L457.70 386.70 L457.50 393.60" stroke="#00f" stroke-width="2.083" stroke-dasharray="2.083 3.437"/>
</g>
<g stroke="#000" stroke-width="1.111" fill="none">
<rect x="80.50" y="58.50" width="453.00" height="369.00"/>
<path d="M102.5 427 v5.45"/>
<path d="M185.5 427 v5.45"/>
<path d="M269.5 427 v5.45"/>
<path d="M353.5 427 v5.45"/>
<path d="M437.5 427 v5.45"/>
<path d="M521.5 427 v5.45"/>
<path d="M81 63.5 h-5.45"/>
<path d="M81 106.5 h-5.45"/>
<path d="M81 148.5 h-5.45"/>
<path d="M81 191.5 h-5.45"/>
<path d="M81 233.5 h-5.45"/>
<path d="M81 276.5 h-5.45"/>
<path d="M81 318.5 h-5.45"/>
<path d="M81 361.5 h-5.45"/>
<path d="M81 404.5 h-5.45"/>
</g>
<text transform="translate(97.20 447.92) scale(1.0000 1)" font-size="14.72" x="0.28" y="0">0</text>
<text transform="translate(172.24 447.92) scale(1.0000 1)" font-size="14.72" x="0.28 9.04 17.78" y="0">500</text>
<text transform="translate(251.60 447.92) scale(1.0000 1)" font-size="14.72" x="0.30 9.08 17.86 26.63" y="0">1000</text>
<text transform="translate(335.39 447.92) scale(1.0000 1)" font-size="14.72" x="0.30 9.08 17.86 26.63" y="0">1500</text>
<text transform="translate(419.24 447.92) scale(1.0000 1)" font-size="14.72" x="0.28 9.03 17.78 26.53" y="0">2000</text>
<text transform="translate(503.03 447.92) scale(1.0000 1)" font-size="14.72" x="0.28 9.03 17.78 26.53" y="0">2500</text>
<text transform="translate(61.53 408.90) scale(1.0000 1)" font-size="14.72" x="0.28" y="0">0</text>
<text transform="translate(44.03 367.10) scale(1.0000 1)" font-size="14.72" x="0.28 9.04 17.78" y="0">200</text>
<text transform="translate(44.03 324.43) scale(1.0000 1)" font-size="14.72" x="0.28 9.04 17.78" y="0">400</text>
<text transform="translate(43.90 281.77) scale(1.0000 1)" font-size="14.72" x="0.30 9.10 17.89" y="0">600</text>
<text transform="translate(43.90 239.10) scale(1.0000 1)" font-size="14.72" x="0.30 9.10 17.89" y="0">800</text>
<text transform="translate(35.15 196.43) scale(1.0000 1)" font-size="14.72" x="0.30 9.08 17.86 26.64" y="0">1000</text>
<text transform="translate(35.15 153.77) scale(1.0000 1)" font-size="14.72" x="0.30 9.08 17.86 26.64" y="0">1200</text>
<text transform="translate(35.15 111.10) scale(1.0000 1)" font-size="14.72" x="0.30 9.08 17.86 26.64" y="0">1400</text>
<text transform="translate(35.03 68.43) scale(1.0000 1)" font-size="14.72" x="0.31 9.13 17.94 26.75" y="0">1600</text>
<text transform="translate(168.11 49.27) scale(1.0000 1)" font-size="17.67" x="-0.60 11.33 25.19 36.37 41.66 52.48 64.28 75.46 81.74 92.26 102.48 108.76 119.29 129.82 140.03 146.12 156.44 166.94 177.28 182.65 188.95 198.07 208.74 224.50 234.99 239.58 249.92 260.26 270.71" y="0">CMS-SUS-19-006-agg (combined)</text>
<text transform="translate(280.36 468.00) scale(1.0000 1)" font-size="14.72" x="0.44 8.40 13.32 17.75 29.06 37.28 47.62" y="0">x [GeV]</text>
<text transform="translate(25.50 269.60) rotate(-90) scale(1.0000 1)" font-size="14.72" x="0.44 8.40 13.32 17.75 29.06 37.28 47.62" y="0">y [GeV]</text>
<text transform="translate(393.67 468.00) scale(1.0000 1)" font-size="14.72" x="0.14 7.78 16.75 29.95 38.75 42.62 51.26 60.28 65.35 69.06 77.71 86.36 90.76 99.50 104.14 108.72 117.55 126.22 130.41 137.99 141.87 150.67 159.33 167.96 171.68 176.21 181.57 190.24 199.04 202.75 211.40 219.82" y="0">combination of 40 signal regions</text>
<defs><linearGradient id="cb" x1="0" y1="1" x2="0" y2="0">
<stop offset="0.0000" stop-color="#006400"/>
<stop offset="0.1000" stop-color="#008000"/>
<stop offset="0.1667" stop-color="#4cbc4c"/>
<stop offset="0.2333" stop-color="#90f090"/>
<stop offset="0.2500" stop-color="#a8f5a0"/>
<stop offset="0.2833" stop-color="#d0f8b0"/>
<stop offset="0.3167" stop-color="#f0f8c8"/>
<stop offset="0.3333" stop-color="#fdf0d0"/>
<stop offset="0.3667" stop-color="#fbe0c0"/>
<stop offset="0.4000" stop-color="#f9c8b0"/>
<stop offset="0.4333" stop-color="#f5b0a0"/>
<stop offset="0.4667" stop-color="#f5a09c"/>
<stop offset="0.5000" stop-color="#f08080"/>
<stop offset="0.5667" stop-color="#f45858"/>
<stop offset="0.6000" stop-color="#f84040"/>
<stop offset="0.6333" stop-color="#fc2424"/>
<stop offset="0.6667" stop-color="#ff0000"/>
<stop offset="1.0000" stop-color="#b00000"/>
</linearGradient></defs>
<rect x="553.50" y="58.50" width="19.00" height="369.00" fill="url(#cb)" stroke="#000" stroke-width="1.111"/>
<g stroke="#000" stroke-width="1.111">
<path d="M572 58.5 h5.45"/>
<path d="M572 119.5 h5.45"/>
<path d="M572 181.5 h5.45"/>
<path d="M572 242.5 h5.45"/>
<path d="M572 304.5 h5.45"/>
<path d="M572 366.5 h5.45"/>
<path d="M572 427.5 h5.45"/>
</g>
<text transform="translate(581.80 432.70) scale(1.0000 1)" font-size="14.72" x="0.29 8.90 13.43" y="0">0.0</text>
<text transform="translate(581.80 371.10) scale(1.0000 1)" font-size="14.72" x="0.29 8.90 13.43" y="0">0.5</text>
<text transform="translate(581.80 309.50) scale(1.0000 1)" font-size="14.72" x="0.29 8.90 13.43" y="0">1.0</text>
<text transform="translate(581.80 247.90) scale(1.0000 1)" font-size="14.72" x="0.29 8.90 13.43" y="0">1.5</text>
<text transform="translate(581.80 186.30) scale(1.0000 1)" font-size="14.72" x="0.29 8.90 13.43" y="0">2.0</text>
<text transform="translate(581.80 124.70) scale(1.0000 1)" font-size="14.72" x="0.29 8.90 13.43" y="0">2.5</text>
<text transform="translate(581.80 63.10) scale(1.0000 1)" font-size="14.72" x="0.29 8.90 13.43" y="0">3.0</text>
<rect x="335.9" y="65.5" width="190.6" height="87.0" rx="2.78" fill="#fff" fill-opacity="0.8" stroke="#ccc" stroke-opacity="0.8" stroke-width="1.389"/>
<g fill="none" stroke-width="2.083">
<path d="M340.96 76.24 h27.78" stroke="#000" stroke-linecap="square"/>
<path d="M340.96 97.18 h27.78" stroke="#000" stroke-dasharray="2.083 3.437"/>
<path d="M340.96 118.13 h27.78" stroke="#00f" stroke-linecap="square"/>
<path d="M340.96 139.07 h27.78" stroke="#00f" stroke-dasharray="2.083 3.437"/>
</g>
<text transform="translate(379.85 82.00) scale(1.0000 1)" font-size="14.72" x="0.06 8.62 16.43 24.23 28.11 36.55 44.15 47.88 56.55 65.21 69.73 75.05 83.80 88.70 93.49 97.20 105.00 108.73 117.39 121.22" y="0">exclusion (official)</text>
<text transform="translate(379.85 102.04) scale(1.0000 1)" font-size="14.72" x="0.06 8.76 16.87 25.56 29.99 34.30 42.86 50.68 58.49 62.23 66.66 71.18 76.51 85.26 90.16 94.96 98.67 106.48 110.22 118.88 122.71" y="0">exp. excl. (official)</text>
<text transform="translate(379.85 122.99) scale(1.0000 1)" font-size="14.72" x="0.05 8.58 16.36 24.14 28.00 36.41 44.00 47.71 56.34 64.98 69.48 74.12 83.28 95.53 104.17 112.84 121.49 124.54 134.10" y="0">exclusion (SModelS)</text>
<text transform="translate(379.85 143.93) scale(1.0000 1)" font-size="14.72" x="0.05 8.71 16.80 25.46 29.87 34.17 42.70 50.49 58.28 62.01 66.42 70.92 75.57 84.73 97.00 105.65 114.32 122.97 126.02 135.59" y="0">exp. excl. (SModelS)</text>
<text x="19.60" y="21.80" font-size="13.25" textLength="19.00" lengthAdjust="spacingAndGlyphs">T1:</text>
<text x="43.07" y="21.80" font-size="13.25" textLength="15.07" lengthAdjust="spacingAndGlyphs" class="i">pp</text>
<path d="M61.88 17.35 H70.98 M68.58 14.85 L71.18 17.35 L68.58 19.85" fill="none" stroke="#000" stroke-width="1.0" stroke-linejoin="miter"/>
<text x="74.29" y="21.80" font-size="13.25" textLength="15.07" lengthAdjust="spacingAndGlyphs" class="i">gg</text>
<path d="M77.80 12.80 q1.05 -1.30 2.10 0 t2.10 0" fill="none" stroke="#000" stroke-width="0.90" stroke-linecap="round"/>
<path d="M85.70 12.80 q1.05 -1.30 2.10 0 t2.10 0" fill="none" stroke="#000" stroke-width="0.90" stroke-linecap="round"/>
<text x="90.46" y="21.80" font-size="13.25" textLength="3.07" lengthAdjust="spacingAndGlyphs">,</text>
<text x="96.56" y="21.80" font-size="13.25" textLength="7.03" lengthAdjust="spacingAndGlyphs" class="i">g</text>
<path d="M100.10 12.80 q1.05 -1.30 2.10 0 t2.10 0" fill="none" stroke="#000" stroke-width="0.90" stroke-linecap="round"/>
<path d="M107.43 17.35 H116.53 M114.13 14.85 L116.73 17.35 L114.13 19.85" fill="none" stroke="#000" stroke-width="1.0" stroke-linejoin="miter"/>
<text x="119.84" y="21.80" font-size="13.25" textLength="15.07" lengthAdjust="spacingAndGlyphs" class="i">qq</text>
<path d="M131.10 13.20 h3.80" fill="none" stroke="#000" stroke-width="0.90"/>
<text x="135.71" y="21.80" font-size="13.25" textLength="6.50" lengthAdjust="spacingAndGlyphs" class="i">χ</text>
<path d="M138.70 12.80 q1.05 -1.30 2.10 0 t2.10 0" fill="none" stroke="#000" stroke-width="0.90" stroke-linecap="round"/>
<text x="143.53" y="16.80" font-size="9.28" textLength="4.67" lengthAdjust="spacingAndGlyphs">0</text>
<text x="143.53" y="25.30" font-size="9.28" textLength="4.67" lengthAdjust="spacingAndGlyphs">1</text>
<text x="513.70" y="24.00" font-size="13.25" textLength="11.28" lengthAdjust="spacingAndGlyphs" class="i">m</text>
<text x="525.88" y="26.10" font-size="9.28" textLength="4.65" lengthAdjust="spacingAndGlyphs" class="i">g</text>
<path d="M527.60 19.21 q0.95 -1.18 1.90 0 t1.90 0" fill="none" stroke="#000" stroke-width="0.90" stroke-linecap="round"/>
<text x="534.52" y="24.00" font-size="13.25" textLength="9.57" lengthAdjust="spacingAndGlyphs">=</text>
<text x="547.13" y="24.00" font-size="13.25" textLength="6.50" lengthAdjust="spacingAndGlyphs" class="i">x</text>
<text x="554.83" y="24.00" font-size="13.25" textLength="3.07" lengthAdjust="spacingAndGlyphs">,</text>
<text x="561.94" y="24.00" font-size="13.25" textLength="11.28" lengthAdjust="spacingAndGlyphs" class="i">m</text>
<text x="574.11" y="26.10" font-size="9.28" textLength="4.28" lengthAdjust="spacingAndGlyphs" class="i">χ</text>
<path d="M574.60 19.41 q0.95 -1.18 1.90 0 t1.90 0" fill="none" stroke="#000" stroke-width="0.90" stroke-linecap="round"/>
<text x="579.68" y="22.60" font-size="6.49" textLength="3.00" lengthAdjust="spacingAndGlyphs">0</text>
<text x="579.68" y="28.60" font-size="6.49" textLength="3.00" lengthAdjust="spacingAndGlyphs">1</text>
<text x="586.91" y="24.00" font-size="13.25" textLength="9.57" lengthAdjust="spacingAndGlyphs">=</text>
<text x="599.82" y="24.00" font-size="13.25" textLength="6.50" lengthAdjust="spacingAndGlyphs" class="i">y</text>
<g transform="translate(619.6 286.44) rotate(-90)">
<text x="0.10" y="0.00" font-size="14.72" textLength="4.80" lengthAdjust="spacingAndGlyphs" class="i">r</text>
<text x="8.81" y="0.00" font-size="14.72" textLength="10.73" lengthAdjust="spacingAndGlyphs">=</text>
<text x="22.84" y="0.00" font-size="14.72" textLength="7.89" lengthAdjust="spacingAndGlyphs" class="i">σ</text>
<text x="31.63" y="2.30" font-size="10.31" textLength="28.00" lengthAdjust="spacingAndGlyphs" class="i">signal</text>
<text x="61.04" y="0.00" font-size="14.72" textLength="3.77" lengthAdjust="spacingAndGlyphs">/</text>
<text x="65.42" y="0.00" font-size="14.72" textLength="7.89" lengthAdjust="spacingAndGlyphs" class="i">σ</text>
<text x="74.21" y="2.30" font-size="10.31" textLength="11.70" lengthAdjust="spacingAndGlyphs" class="i">UL</text>
</g>
<g id="logo"><title>SModelS</title>
<g font-size="5" style="fill:#cacaca" opacity="0.95">
<text transform="translate(8 449) rotate(38)" style="fill:#c6c6c6">simplified</text>
<text transform="translate(7 462) rotate(-8)" style="fill:#d0d0d0">models LHC</text>
<text transform="translate(9 470) rotate(14)" style="fill:#cccccc">SUSY results</text>
<text transform="translate(14 477) rotate(-24)" style="fill:#d2d2d2">topologies</text>
<text transform="translate(26 450) rotate(-12)" style="fill:#d4d4d4">spectra SMS</text>
<text transform="translate(40 449) rotate(20)" style="fill:#cecece">SMS limits</text>
<text transform="translate(58 452) rotate(-28)" style="fill:#c5c5c5">excluded</text>
<text transform="translate(70 447) rotate(12)" style="fill:#d0d0d0">database</text>
<text transform="translate(86 450) rotate(-18)" style="fill:#cfcfcf">theory</text>
<text transform="translate(97 452) rotate(30)" style="fill:#c8c8c8">SMS BSM</text>
<text transform="translate(98 466) rotate(-14)" style="fill:#cbcbcb">decomp</text>
<text transform="translate(92 474) rotate(10)" style="fill:#d0d0d0">cascade</text>
<text transform="translate(72 476) rotate(-6)" style="fill:#d2d2d2">upper limit</text>
<text transform="translate(44 478) rotate(-10)" style="fill:#d4d4d4">cross section</text>
<text transform="translate(26 474) rotate(6)" style="fill:#d0d0d0">efficiency</text>
<text transform="translate(30 460) rotate(-30)" style="fill:#d8d8d8">analysis</text>
<text transform="translate(60 464) rotate(22)" style="fill:#d6d6d6">missing ET</text>
<text transform="translate(80 462) rotate(-35)" style="fill:#d6d6d6">element</text>
<text transform="translate(104 478) rotate(-40)" style="fill:#c2c2c2">mass</text>
</g>
<g fill="none" stroke="#414141" stroke-width="2.5" stroke-linecap="round" stroke-linejoin="round">
<path transform="translate(23.4 451)" d="M7.6 2.9 C6.9 1.2 5.5 0.4 4 0.4 C1.8 0.4 0.3 1.8 0.3 4 C0.3 6.4 2.2 7.4 4.2 8.2 C6.5 9.1 8 10.3 8 12.6 C8 15 6.2 16.4 4 16.4 C2.1 16.4 0.6 15.4 0 13.6"/>
<path d="M35.4 467.3 L36 451.7 L42 463 L48 451.7 L48.7 467.3"/>
<path d="M70 462.9 C70 460 68.6 458.2 66.6 458.2 C64.6 458.2 63.6 460.3 63.6 462.9 C63.6 465.6 64.7 467.5 66.7 467.5 C68.7 467.5 70 465.7 70 462.9 M70 450.8 V467.3"/>
<path d="M75 462.7 H79.6 C79.6 459.8 78.6 458.2 77.1 458.2 C75.4 458.2 74.6 460.3 74.6 462.9 C74.6 465.7 75.6 467.5 77.3 467.5 C78.4 467.5 79.2 467 79.7 466"/>
<path d="M83.5 450.8 V467.2"/>
<path transform="translate(88.2 451)" d="M7.6 2.9 C6.9 1.2 5.5 0.4 4 0.4 C1.8 0.4 0.3 1.8 0.3 4 C0.3 6.4 2.2 7.4 4.2 8.2 C6.5 9.1 8 10.3 8 12.6 C8 15 6.2 16.4 4 16.4 C2.1 16.4 0.6 15.4 0 13.6"/>
</g>
<g fill="none" stroke="#f01a08" stroke-linecap="round" stroke-linejoin="round">
<circle cx="55.3" cy="466.2" r="3.9" fill="#fff" stroke-width="2.7"/>
<path d="M46 474.3 C48.8 473.8 49 471.2 51.4 469.4 M65.2 474.3 C62.4 473.8 62.2 471.2 59.5 469.4" stroke-width="2.4"/>
<path d="M37.2 473.6 l1 1.7 l1.1 -2.4 l1.1 2.4 l1.1 -2.4 l1.1 2.4 l1.1 -2.4 l1.1 2.2 l0.9 -0.7 M65.2 474.3 l0.9 1 l1.1 -2.4 l1.1 2.4 l1.1 -2.4 l1.1 2.4 l1.1 -2.4 l1.1 2.4 l1.1 -2.2 l0.9 1" stroke-width="1.3"/>
</g>
</g>

</svg></body></html>
